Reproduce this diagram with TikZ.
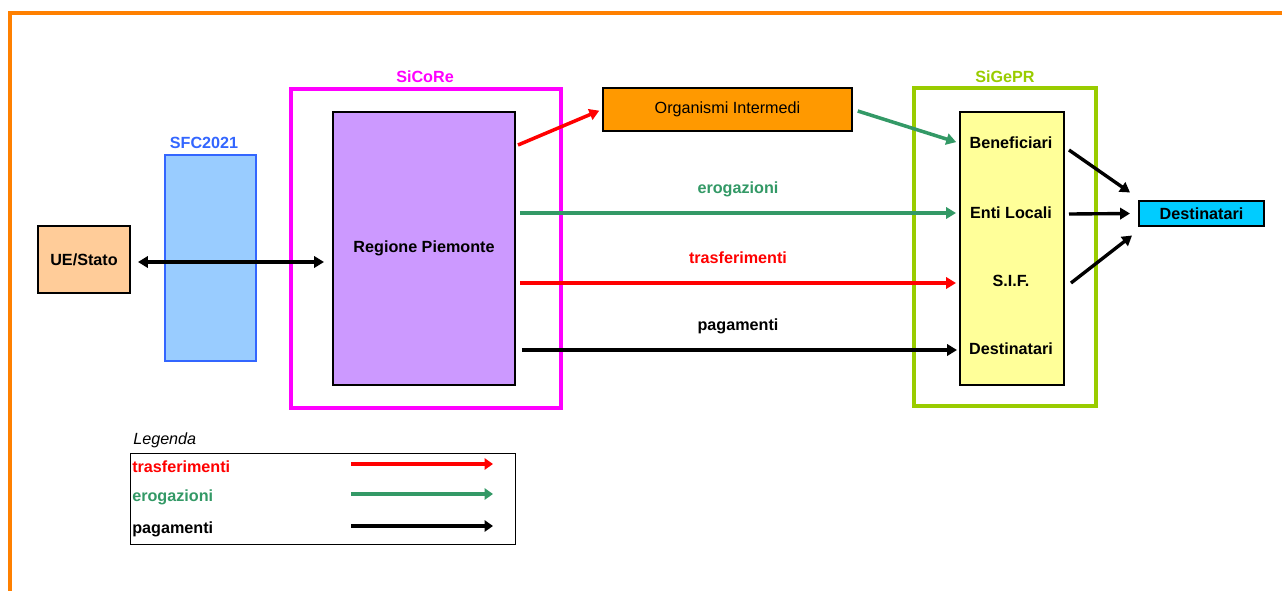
\documentclass[tikz,border=0pt]{standalone}
\usepackage{fontspec}
\setmainfont{Liberation Sans}
\usetikzlibrary{arrows.meta,positioning,calc}

\newdimen\pxu \pxu=0.025cm

\definecolor{frameorange}{HTML}{FF8000}
\definecolor{sfcblue}{HTML}{3366FF}
\definecolor{sfcfill}{HTML}{99CCFF}
\definecolor{sicorepink}{HTML}{FF00FF}
\definecolor{regfill}{HTML}{CC99FF}
\definecolor{orgfill}{HTML}{FF9900}
\definecolor{sigeprgreen}{HTML}{99CC00}
\definecolor{yelfill}{HTML}{FFFF99}
\definecolor{destfill}{HTML}{00CCFF}
\definecolor{uefill}{HTML}{FFCC99}
\definecolor{erogreen}{HTML}{339966}

\begin{document}
\begin{tikzpicture}[
    x=0.025cm, y=-0.025cm,
    box/.style={rectangle, draw, line width=1.4pt, font=\bfseries, inner sep=0pt},
    frame/.style={rectangle, draw, line width=2.8pt, inner sep=0pt},
    tag/.style={font=\bfseries, inner sep=1pt},
    arrow/.style={-{Triangle[length=7pt,width=8pt]}, line width=2.5pt},
    thinarrow/.style={-{Triangle[length=7pt,width=8pt]}, line width=2.4pt},
    legarrow/.style={-{Triangle[length=6pt,width=8pt]}, line width=2.8pt}
]
\fontsize{11.5}{14}\selectfont
\useasboundingbox (0,0) rectangle (1282,591);

% Outer frame
\draw[frameorange, line width=3.5pt] (10,591) -- (10,13) -- (1282,13);

% Left side
\node[box, fill=uefill, minimum width=92\pxu, minimum height=67\pxu] (ue) at (84,259.5) {UE/Stato};
\node[rectangle, draw=sfcblue, fill=sfcfill, line width=1.4pt, minimum width=91\pxu, minimum height=206\pxu] (sfc) at (210.5,258) {};
\node[tag, text=sfcblue] (sfclab) at (204,143) {SFC2021};

% SiCoRe
\node[frame, draw=sicorepink, minimum width=270\pxu, minimum height=319\pxu] (sicore) at (426,248.5) {};
\node[tag, text=sicorepink] (sicorelab) at (425,77) {SiCoRe};
\node[box, fill=regfill, minimum width=182\pxu, minimum height=273\pxu] (reg) at (424,248.5) {Regione Piemonte};

% Organismi
\node[box, fill=orgfill, font=\normalfont, minimum width=249\pxu, minimum height=43\pxu] (org) at (727.5,109.5) {Organismi Intermedi};

% SiGePR
\node[frame, draw=sigeprgreen, minimum width=182\pxu, minimum height=318\pxu] (sigepr) at (1005,247) {};
\node[tag, text=sigeprgreen] (sigeprlab) at (1005,77) {SiGePR};
\node[box, fill=yelfill, minimum width=104\pxu, minimum height=273\pxu] (yel) at (1012,248.5) {};
\node[tag] (ben) at (1011,143) {Beneficiari};
\node[tag] (enti) at (1011,213) {Enti Locali};
\node[tag] (sif) at (1011,281) {S.I.F.};
\node[tag] (dest) at (1011,349) {Destinatari};

% Destinatari finali
\node[box, fill=destfill, minimum width=125\pxu, minimum height=25\pxu] (dst) at (1201.5,213.5) {Destinatari};

% Flow labels
\node[tag, text=erogreen] (erolab) at (738,189) {erogazioni};
\node[tag, text=red] (trlab) at (738,258) {trasferimenti};
\node[tag] (paglab) at (738,326) {pagamenti};

% Arrows
\coordinate (link) at (230,262);
\draw[{Triangle[length=7pt,width=8pt]}-{Triangle[length=7pt,width=8pt]}, line width=2.4pt, shorten <=7\pxu, shorten >=8\pxu] (ue.east |- link) -- (reg.west |- link);
\draw[arrow, red, shorten >=3\pxu] ($(reg.north east)+(2,34)$) -- (org.west);
\draw[arrow, erogreen, shorten <=5\pxu, shorten >=3\pxu] (org.east) -- (yel.west |- ben);
\draw[arrow, erogreen, shorten <=4\pxu, shorten >=3\pxu] (reg.east |- enti) -- (yel.west |- enti);
\draw[arrow, red, shorten <=4\pxu, shorten >=3\pxu] ($(reg.east |- sif)+(0,2)$) -- ($(yel.west |- sif)+(0,2)$);
\draw[arrow, shorten <=6\pxu, shorten >=2\pxu] ($(reg.east |- dest)+(0,1)$) -- ($(yel.west |- dest)+(0,1)$);
\draw[thinarrow] ($(yel.east |- ben)+(4,7)$) -- ($(dst.west)+(-8,-21)$);
\draw[thinarrow] ($(yel.east |- enti)+(4,1)$) -- ($(dst.west)+(-8,0)$);
\draw[thinarrow] ($(yel.east |- sif)+(6,2)$) -- ($(dst.west)+(-6,22)$);

% Legend
\node[font=\itshape, anchor=west, inner sep=0pt] (legtitle) at (133,440) {Legenda};
\node[rectangle, draw, line width=0.7pt, minimum width=385\pxu, minimum height=91\pxu] (legbox) at (322.5,498.5) {};
\foreach \lab/\col/\y in {trasferimenti/red/467, erogazioni/erogreen/497, pagamenti/black/529} {
    \node[tag, text=\col, anchor=west, inner sep=0pt] (leg-\lab) at (132,\y) {\lab};
    \coordinate (\lab-a) at (351,\y-3);
    \coordinate (\lab-b) at (493,\y-3);
    \draw[legarrow, \col] (\lab-a) -- (\lab-b);
}

\end{tikzpicture}
\end{document}
